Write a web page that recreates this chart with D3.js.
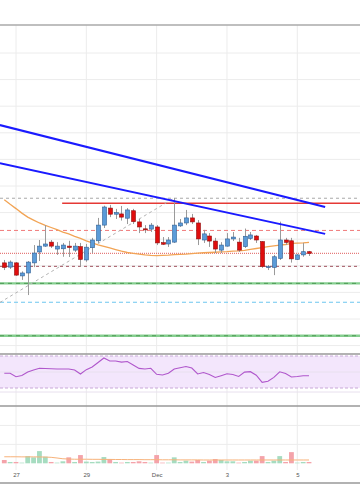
<!DOCTYPE html>
<html><head><meta charset="utf-8">
<script src="https://cdn.jsdelivr.net/npm/d3@7"></script>
<style>html,body{margin:0;padding:0;background:#fff;} svg{display:block;}</style>
</head><body>
<svg id="c" width="360" height="504"></svg>
<script>
// ---- data ----
const startTime = Date.UTC(2018, 10, 26, 16); // first 4h candle
const stepHours = 4;
const opens  = [431.1,429.5,431.1,426.2,427.3,431.1,435.2,437.4,438.9,436.3,436.4,437.4,435.9,437.2,432.2,436.8,439.4,445.3,451.7,449.4,449.5,447.9,450.7,446.5,443.9,443.8,444.6,438.7,438.2,438.9,445.0,446.1,448.0,446.1,439.7,441.2,439.3,435.9,437.4,440.1,438.9,437.2,440.3,441.2,439.1,429.3,429.4,432.8,439.7,439.4,432.4,434.1,435.3];
const highs  = [432.2,432.0,431.4,427.9,431.8,437.8,439.7,445.3,439.7,438.9,438.6,439.4,438.6,438.6,438.2,440.5,448.0,452.6,452.9,451.4,452.5,451.7,451.4,447.6,445.3,446.1,445.3,440.8,440.8,455.5,447.6,451.0,449.5,447.2,443.5,442.3,440.5,438.9,442.3,442.7,440.5,444.0,442.7,441.6,439.3,430.3,434.1,446.6,440.5,440.5,434.4,438.6,435.6];
const lows   = [428.4,428.8,426.2,424.7,419.0,429.5,431.8,437.1,436.7,434.1,433.4,433.3,435.2,429.7,431.5,434.8,438.6,444.2,448.3,447.6,447.0,445.7,445.7,442.3,442.3,442.7,437.8,437.8,437.1,438.6,444.6,445.3,445.7,437.8,438.6,437.1,434.8,434.8,437.2,439.3,435.2,436.7,439.7,438.6,429.2,428.4,426.5,432.2,437.8,431.2,432.2,433.4,433.7];
const closes = [429.4,431.4,426.5,427.3,431.4,434.8,437.4,438.2,437.4,437.4,437.8,436.9,437.4,432.4,437.0,439.7,445.3,452.1,449.4,450.0,448.3,451.0,446.6,444.6,443.5,445.3,438.6,438.1,439.7,445.3,446.1,448.0,446.5,440.1,442.0,439.3,436.3,437.8,440.1,440.8,435.9,441.1,441.6,439.7,429.7,429.7,433.4,439.7,438.8,432.6,434.1,435.3,434.7];
const priceMA = [454.8,453.1,451.5,449.8,448.3,447.2,446.1,445.2,444.4,443.6,442.7,442.0,441.1,440.3,439.4,438.6,437.9,437.3,436.7,436.1,435.5,435.0,434.7,434.4,434.1,433.9,433.8,433.9,434.0,434.2,434.3,434.4,434.6,434.8,434.9,435.0,435.1,435.2,435.3,435.5,435.6,435.8,436.2,436.5,436.8,437.2,437.5,437.8,438.0,438.4,438.5,438.6,438.8];
const volumes = [3.5,1.4,1.4,0.7,7.6,6.3,12.9,7.0,1.4,0.7,2.1,6.3,1.4,8.7,1.8,1.4,1.8,6.6,4.5,1.4,0.7,1.4,1.4,2.1,1.4,0.7,8.7,0.7,0.7,6.3,1.4,2.8,1.8,3.5,1.4,2.8,4.5,3.5,2.1,2.1,0.7,1.4,2.8,2.8,7.6,1.4,2.8,7.6,1.4,11.8,0.7,1.4,1.4];
const volumeMA = [6.9,6.9,6.9,6.8,6.8,6.8,6.7,6.6,6.3,5.6,4.8,4.5,4.3,4.3,4.3,4.2,4.2,4.1,4.1,4.0,4.0,3.9,3.9,3.9,3.8,3.8,3.8,3.7,3.7,3.7,3.6,3.6,3.6,3.6,3.5,3.5,3.5,3.5,3.5,3.5,3.5,3.5,3.5,3.5,3.5,3.5,3.5,3.5,3.5,3.5,3.5,3.5,3.5];
const rsi = [48.4,48.4,44.1,45.6,50,52.5,54.6,54.4,54.1,53.8,53.8,53.8,52.5,47.5,52.9,56.3,61.9,67.5,63.8,63.8,62.3,63.1,58.8,54.5,53.8,54.6,47.1,46.3,48.5,53.8,55.4,56.8,55,47.5,49.4,46.9,43.1,45.4,47.8,46.8,44.4,49.8,50.4,46,37.1,38.4,43.3,50.3,48.1,43.8,44.4,45.4,45.4];

const dateTicks = [Date.UTC(2018,10,27), Date.UTC(2018,10,29), Date.UTC(2018,11,1), Date.UTC(2018,11,3), Date.UTC(2018,11,5)];
const dateTickLabels = ["27", "29", "Dec", "3", "5"];
const priceGrid = [400,410,420,430,440,450,460,470,480,490,500,510];
const rsiGrid = [25, 50];
const rsiBand = [30, 70];
const volGrid = [20, 40];

// horizontal levels (price)
const levelPrices = [455.4, 453.5, 443.3, 434.7, 429.8, 423.4, 416.3, 403.7];
const levelStarts = [null, Date.UTC(2018,10,28,7,30), null, null, null, null, null, null];
// trendlines: [time, price] pairs
const trendStarts = [[Date.UTC(2018,10,26,13,0), 482.9], [Date.UTC(2018,10,26,13,0), 468.6], [Date.UTC(2018,10,26,13,0), 416.2]];
const trendEnds   = [[Date.UTC(2018,11,5,19,0), 452.1], [Date.UTC(2018,11,5,19,0), 442.0], [Date.UTC(2018,11,1,12,0), 455.5]];

// ---- drawing ----
const W = 360;
const svg = d3.select('#c');
const x = d3.scaleUtc().domain([new Date(dateTicks[0]), new Date(dateTicks[4])]).range([16, 297.3]);
const y = d3.scaleLinear().domain([400, 510]).range([345.6, 53]);
const yR = d3.scaleLinear().domain([30, 70]).range([388, 356]);
const yV = d3.scaleLinear().domain([0, 60]).range([463.3, 406.5]);
const times = opens.map((_, i) => new Date(startTime + i * stepHours * 3600e3));
const candles = opens.map((o, i) => ({t: times[i], o, h: highs[i], l: lows[i], c: closes[i], v: volumes[i], up: closes[i] >= o}));

const defs = svg.append('defs');
function clip(id, y0, h) { defs.append('clipPath').attr('id', id).append('rect').attr('x', 0).attr('y', y0).attr('width', W).attr('height', h); }
clip('cm', 25, 329); clip('cr', 355, 51); clip('cv', 406, 77);

svg.append('rect').attr('width', W).attr('height', 504).attr('fill', '#fff');

// vertical grid
svg.append('g').selectAll('line').data(dateTicks).join('line')
  .attr('x1', d => x(new Date(d))).attr('x2', d => x(new Date(d)))
  .attr('y1', 25).attr('y2', 470).attr('stroke', '#ececec').attr('stroke-width', 1);

// main pane
const main = svg.append('g').attr('clip-path', 'url(#cm)');
main.append('g').selectAll('line').data(priceGrid).join('line')
  .attr('x1', 0).attr('x2', W).attr('y1', d => y(d)).attr('y2', d => y(d))
  .attr('stroke', '#ececec').attr('stroke-width', 1);

const levelStyle = [
  {c: '#a8a8a8', w: 1, dash: '3,3'},
  {c: '#e53935', w: 1.6, dash: null},
  {c: '#f07a7a', w: 1, dash: '4,3'},
  {c: '#e05a5a', w: 1, dash: '1,1'},
  {c: '#a0525e', w: 1, dash: '3,3'},
  {c: 'green2'},
  {c: '#6ec6f0', w: 1.2, dash: '4,3'},
  {c: 'green2'}
];
levelPrices.forEach((p, i) => {
  const s = levelStyle[i];
  const x0 = levelStarts[i] ? x(new Date(levelStarts[i])) : 0;
  if (s.c === 'green2') {
    main.append('line').attr('x1', x0).attr('x2', W).attr('y1', y(p)).attr('y2', y(p))
      .attr('stroke', '#86cf90').attr('stroke-width', 2.4);
    main.append('line').attr('x1', x0).attr('x2', W).attr('y1', y(p)).attr('y2', y(p))
      .attr('stroke', '#4f9a55').attr('stroke-width', 1).attr('stroke-dasharray', '4,4');
  } else {
    const l = main.append('line').attr('x1', x0).attr('x2', W).attr('y1', y(p)).attr('y2', y(p))
      .attr('stroke', s.c).attr('stroke-width', s.w);
    if (s.dash) l.attr('stroke-dasharray', s.dash);
  }
});

// diagonal gray dashed
main.append('line')
  .attr('x1', x(new Date(trendStarts[2][0]))).attr('y1', y(trendStarts[2][1]))
  .attr('x2', x(new Date(trendEnds[2][0]))).attr('y2', y(trendEnds[2][1]))
  .attr('stroke', '#b4b4b4').attr('stroke-width', 1).attr('stroke-dasharray', '3,3');

// moving average
main.append('path').datum(priceMA)
  .attr('d', d3.line().x((d, i) => x(times[i])).y(d => y(d)))
  .attr('fill', 'none').attr('stroke', '#f2a455').attr('stroke-width', 1.3);

// candles
const cg = main.append('g');
cg.selectAll('line').data(candles).join('line')
  .attr('x1', d => Math.round(x(d.t)) + 0.5).attr('x2', d => Math.round(x(d.t)) + 0.5)
  .attr('y1', d => y(d.h)).attr('y2', d => y(d.l))
  .attr('stroke', '#9a9a9a').attr('stroke-width', 1);
cg.selectAll('rect').data(candles).join('rect')
  .attr('x', d => Math.round(x(d.t)) - 1.5).attr('width', 4)
  .attr('y', d => y(Math.max(d.o, d.c)))
  .attr('height', d => Math.max(1, y(Math.min(d.o, d.c)) - y(Math.max(d.o, d.c))))
  .attr('fill', d => d.up ? '#5b9bd8' : '#e00d0d')
  .attr('stroke', d => d.up ? '#2f5f94' : '#8e1010').attr('stroke-width', 0.6);

// blue trendlines
[0, 1].forEach(k => {
  main.append('line')
    .attr('x1', x(new Date(trendStarts[k][0]))).attr('y1', y(trendStarts[k][1]))
    .attr('x2', x(new Date(trendEnds[k][0]))).attr('y2', y(trendEnds[k][1]))
    .attr('stroke', '#1a1aff').attr('stroke-width', 2);
});

// RSI pane
const rp = svg.append('g').attr('clip-path', 'url(#cr)');
rp.append('rect').attr('x', 0).attr('width', W).attr('y', yR(rsiBand[1])).attr('height', yR(rsiBand[0]) - yR(rsiBand[1]))
  .attr('fill', '#f3e6fc');
rp.selectAll('line.g').data(rsiGrid).join('line').attr('class', 'g')
  .attr('x1', 0).attr('x2', W).attr('y1', d => yR(d)).attr('y2', d => yR(d))
  .attr('stroke', '#e8e0ee').attr('stroke-width', 1);
rp.selectAll('line.b').data(rsiBand).join('line').attr('class', 'b')
  .attr('x1', 0).attr('x2', W).attr('y1', d => yR(d)).attr('y2', d => yR(d))
  .attr('stroke', '#c8a8d8').attr('stroke-width', 1).attr('stroke-dasharray', '3,2');
rp.append('path').datum(rsi)
  .attr('d', d3.line().x((d, i) => x(times[i])).y(d => yR(d)))
  .attr('fill', 'none').attr('stroke', '#b057cc').attr('stroke-width', 1.1);

// Volume pane
const vp = svg.append('g').attr('clip-path', 'url(#cv)');
vp.selectAll('line.g').data(volGrid).join('line').attr('class', 'g')
  .attr('x1', 0).attr('x2', W).attr('y1', d => yV(d)).attr('y2', d => yV(d))
  .attr('stroke', '#ececec').attr('stroke-width', 1);
vp.selectAll('rect').data(candles).join('rect')
  .attr('x', d => x(d.t) - 2.4).attr('width', 4.8)
  .attr('y', d => yV(d.v)).attr('height', d => yV(0) - yV(d.v))
  .attr('fill', d => d.up ? '#a6dcc0' : '#f4a3aa');
vp.append('path').datum(volumeMA)
  .attr('d', d3.line().x((d, i) => x(times[i])).y(d => yV(d)))
  .attr('fill', 'none').attr('stroke', '#f7b27a').attr('stroke-width', 1);

// pane borders
[[25, '#aaaaaa'], [354, '#999999'], [406, '#999999'], [483, '#999999']].forEach(([yy, c]) => {
  svg.append('line').attr('x1', 0).attr('x2', W).attr('y1', yy).attr('y2', yy)
    .attr('stroke', c).attr('stroke-width', 1.4);
});

// date axis
const ax = svg.append('g').attr('transform', 'translate(0,473)')
  .call(d3.axisBottom(x).tickValues(dateTicks.map(d => new Date(d)))
    .tickFormat((d, i) => dateTickLabels[i]).tickSize(0).tickPadding(0));
ax.select('.domain').remove();
ax.selectAll('text').attr('font-family', 'Liberation Sans, Arial, sans-serif')
  .attr('font-size', 6).attr('fill', '#555');
</script>
</body></html>
